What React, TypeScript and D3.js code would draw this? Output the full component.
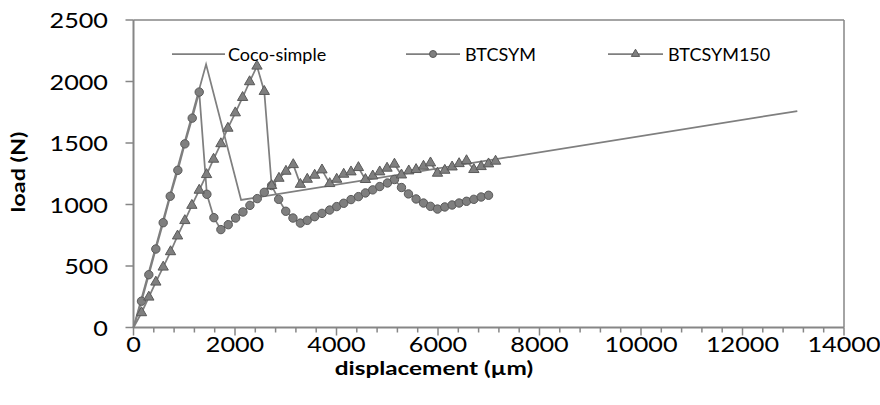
import React from "react";
import * as d3 from "d3";

const cocoX = [0, 1430, 2120, 13080];
const cocoY = [0, 2140, 1037, 1760];

const btcX = [0, 158, 302, 440, 585, 724, 874, 1012, 1157, 1295, 1446, 1584, 1722, 1867, 2012, 2156, 2294, 2439, 2577, 2722, 2860, 3000, 3142, 3288, 3424, 3570, 3714, 3866, 4004, 4142, 4286, 4432, 4570, 4714, 4852, 5004, 5142, 5280, 5418, 5568, 5714, 5852, 5990, 6134, 6278, 6416, 6562, 6706, 6850, 6996];
const btcY = [0, 214, 429, 638, 852, 1067, 1278, 1493, 1702, 1914, 1083, 893, 796, 836, 890, 939, 993, 1048, 1099, 1154, 1042, 945, 890, 849, 871, 901, 928, 955, 983, 1010, 1040, 1064, 1094, 1119, 1146, 1175, 1203, 1138, 1086, 1045, 1012, 985, 963, 980, 996, 1012, 1026, 1042, 1061, 1075];

const b150X = [0, 158, 302, 440, 585, 730, 868, 1012, 1150, 1295, 1440, 1578, 1722, 1860, 2006, 2150, 2288, 2433, 2577, 2722, 2866, 3004, 3148, 3288, 3424, 3570, 3714, 3866, 4004, 4142, 4286, 4432, 4570, 4714, 4852, 4996, 5142, 5280, 5424, 5568, 5714, 5852, 5990, 6134, 6278, 6416, 6562, 6706, 6850, 6996, 7134];
const b150Y = [0, 120, 247, 369, 491, 616, 744, 869, 993, 1116, 1243, 1368, 1494, 1620, 1745, 1870, 1998, 2125, 1919, 1154, 1213, 1270, 1324, 1164, 1205, 1238, 1281, 1170, 1205, 1246, 1265, 1300, 1203, 1232, 1265, 1295, 1328, 1240, 1273, 1284, 1311, 1338, 1254, 1278, 1305, 1332, 1356, 1284, 1308, 1330, 1352];

const xTicks = [0, 2000, 4000, 6000, 8000, 10000, 12000, 14000];
const yTicks = [0, 500, 1000, 1500, 2000, 2500];
const seriesNames = ["Coco-simple", "BTCSYM", "BTCSYM150"];
const xTitle = "displacement (µm)";
const yTitle = "load  (N)";

const W = 880;
const H = 405;
const left = 133.5;
const right = 844;
const top = 20;
const bottom = 327.5;
const FONT = "Lato, 'Open Sans', sans-serif";
const LINE = "#7f7f7f";
const AXIS = "#868686";
const MFILL = "#7f7f7f";
const MSTROKE = "#595959";

function zip(xs: number[], ys: number[]) {
  return xs.map((x, i) => ({ x, y: ys[i] }));
}

function T({ x, y, children, anchor = "start", bold = false, size = 19.5, rotate = 0, sx = 1.2 }: any) {
  const tr = `translate(${x},${y}) rotate(${rotate}) scale(${sx},1)`;
  return (
    <g transform={tr}>
      <text
        x={0}
        y={0}
        textAnchor={anchor}
        dominantBaseline="central"
        fontFamily={FONT}
        fontSize={size}
        fontWeight={bold ? 700 : 400}
        fill="#000"
      >
        {children}
      </text>
    </g>
  );
}

export default function App() {
  const x = d3.scaleLinear().domain([0, 14000]).range([left, right]);
  const y = d3.scaleLinear().domain([0, 2500]).range([bottom, top]);
  const line = d3
    .line<{ x: number; y: number }>()
    .x((d) => x(d.x))
    .y((d) => y(d.y));

  const coco = zip(cocoX, cocoY);
  const btc = zip(btcX, btcY);
  const b150 = zip(b150X, b150Y);

  const minorTicks = d3.range(0, 14001, 400).filter((v) => v % 2000 !== 0);
  const tri = d3.symbol().type(d3.symbolTriangle).size(46)() as string;
  const triLeg = d3.symbol().type(d3.symbolTriangle).size(30)() as string;

  const legY = 54;
  const legend = [
    { x1: 172, x2: 225, tx: 228, name: seriesNames[0], marker: null },
    { x1: 406, x2: 460, tx: 465, name: seriesNames[1], marker: "circle" },
    { x1: 608, x2: 663, tx: 668, name: seriesNames[2], marker: "tri" },
  ];

  return (
    <svg width={W} height={H} style={{ position: "absolute", left: 0, top: 0 }}>
      <rect width={W} height={H} fill="#fff" />
      <line x1={left} x2={right} y1={top} y2={top} stroke={AXIS} strokeWidth={1.5} />
      <line x1={right} x2={right} y1={top} y2={bottom} stroke={AXIS} strokeWidth={1.5} />

      <line x1={left} x2={left} y1={top} y2={bottom} stroke={AXIS} strokeWidth={2} />
      {yTicks.map((t) => (
        <g key={"yt" + t}>
          <line x1={left - 8} x2={left} y1={y(t)} y2={y(t)} stroke={AXIS} strokeWidth={1.5} />
          <T x={108} y={y(t)} anchor="end" size={20.5} sx={1.23}>{String(t)}</T>
        </g>
      ))}

      <line x1={left} x2={right} y1={bottom} y2={bottom} stroke={AXIS} strokeWidth={2} />
      {minorTicks.map((t) => (
        <line key={"mx" + t} x1={x(t)} x2={x(t)} y1={bottom} y2={bottom + 5} stroke={AXIS} strokeWidth={1.5} />
      ))}
      {xTicks.map((t) => (
        <g key={"xt" + t}>
          <line x1={x(t)} x2={x(t)} y1={bottom} y2={bottom + 8} stroke={AXIS} strokeWidth={1.5} />
          <T x={x(t)} y={344} anchor="middle" size={20.5} sx={1.23}>{String(t)}</T>
        </g>
      ))}

      <T x={434} y={368} anchor="middle" bold size={19} sx={1.28}>{xTitle}</T>
      <T x={18} y={172} anchor="middle" bold rotate={-90} size={19.5} sx={1.2}>{yTitle}</T>

      <path d={line(coco) as string} fill="none" stroke={LINE} strokeWidth={1.75} />
      <path d={line(btc) as string} fill="none" stroke={LINE} strokeWidth={1.75} />
      {btc.filter((d) => d.x > 0).map((d, i) => (
        <circle key={"c" + i} cx={x(d.x)} cy={y(d.y)} r={4.2} fill={MFILL} stroke={MSTROKE} strokeWidth={1} />
      ))}
      <path d={line(b150) as string} fill="none" stroke={LINE} strokeWidth={1.75} />
      {b150.filter((d) => d.x > 0).map((d, i) => (
        <path key={"t" + i} d={tri} transform={`translate(${x(d.x)},${y(d.y)})`} fill={MFILL} stroke={MSTROKE} strokeWidth={1} />
      ))}

      {legend.map((l) => (
        <g key={l.name}>
          <line x1={l.x1} x2={l.x2} y1={legY} y2={legY} stroke={LINE} strokeWidth={1.75} />
          {l.marker === "circle" && (
            <circle cx={(l.x1 + l.x2) / 2} cy={legY} r={3.5} fill={MFILL} stroke={MSTROKE} strokeWidth={1} />
          )}
          {l.marker === "tri" && (
            <path d={triLeg} transform={`translate(${(l.x1 + l.x2) / 2},${legY})`} fill={MFILL} stroke={MSTROKE} strokeWidth={1} />
          )}
          <T x={l.tx} y={legY} size={18} sx={1}>{l.name}</T>
        </g>
      ))}
    </svg>
  );
}
